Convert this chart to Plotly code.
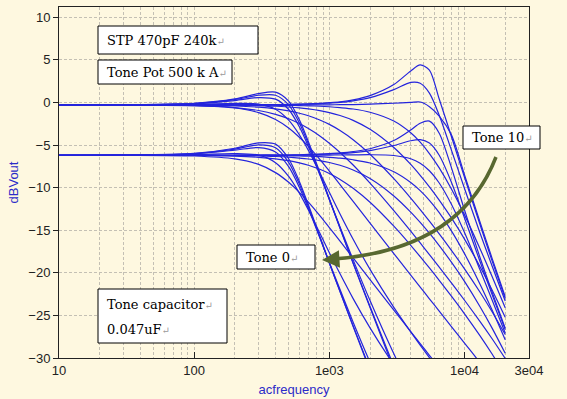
import math
import plotly.graph_objects as go

# ---------------- data ----------------
freq_hz = [10, 30, 100, 200, 300, 400, 500, 600, 700, 850, 1000, 1200, 1500,
           2000, 3000, 4000, 4700, 5500, 6500, 8000, 10000, 13000, 16000, 20000]

# upper family (volume full, about -0.3 dB at low frequency)
upper_family_db = [
    [-0.3, -0.3, -0.3, -0.29, -0.27, -0.25, -0.23, -0.2, -0.17, -0.11, -0.03, 0.08, 0.3, 0.8, 2.1, 3.7, 4.4, 3.8, 0.4, -4.0, -8.8, -14.3, -18.6, -23.0],
    [-0.3, -0.3, -0.3, -0.29, -0.28, -0.27, -0.25, -0.22, -0.19, -0.15, -0.08, 0.0, 0.19, 0.56, 1.5, 2.35, 2.25, 1.1, -1.5, -5.6, -10.1, -15.3, -19.2, -23.3],
    [-0.3, -0.3, -0.3, -0.3, -0.3, -0.3, -0.3, -0.3, -0.3, -0.29, -0.28, -0.27, -0.25, -0.2, -0.1, 0.0, 0.05, -0.5, -1.6, -3.8, -8.5, -14.0, -18.3, -22.8],
    [-0.3, -0.3, -0.3, -0.32, -0.32, -0.33, -0.35, -0.38, -0.4, -0.45, -0.51, -0.61, -0.77, -1.15, -2.19, -3.57, -4.67, -6.0, -7.69, -10.16, -13.2, -17.14, -20.43, -24.1],
    [-0.3, -0.3, -0.31, -0.34, -0.39, -0.45, -0.54, -0.64, -0.76, -0.96, -1.19, -1.54, -2.11, -3.16, -5.3, -7.28, -8.56, -9.91, -11.46, -13.56, -16.04, -19.25, -22.03, -25.23],
    [-0.3, -0.3, -0.33, -0.42, -0.56, -0.75, -0.99, -1.27, -1.57, -2.06, -2.58, -3.3, -4.38, -6.08, -8.95, -11.23, -12.58, -13.94, -15.43, -17.36, -19.53, -22.25, -24.57, -27.25],
    [-0.3, -0.31, -0.38, -0.6, -0.95, -1.4, -1.92, -2.48, -3.07, -3.93, -4.79, -5.88, -7.35, -9.48, -12.71, -15.12, -16.5, -17.86, -19.33, -21.18, -23.22, -25.7, -27.74, -30.05],
    [-0.3, -0.3, -0.38, -0.65, -1.2, -2.01, -3.01, -4.09, -5.17, -6.69, -8.06, -9.64, -11.62, -14.17, -17.74, -20.27, -21.68, -23.05, -24.5, -26.31, -28.25, -30.53, -32.34, -34.28],
    [-0.3, -0.29, -0.23, -0.11, -0.19, -0.8, -2.08, -3.79, -5.63, -8.26, -10.54, -13.09, -16.06, -19.6, -24.06, -26.94, -28.49, -29.95, -31.49, -33.36, -35.35, -37.66, -39.49, -41.4],
    [-0.3, -0.28, -0.15, 0.22, 0.57, 0.38, -0.83, -2.86, -5.18, -8.5, -11.39, -14.61, -18.48, -23.26, -29.51, -33.53, -35.6, -37.5, -39.5, -41.7, -44.0, -46.6, -48.5, -50.6],
    [-0.3, -0.28, -0.13, 0.33, 0.84, 0.84, -0.29, -2.42, -4.88, -8.37, -11.4, -14.77, -18.84, -23.95, -30.93, -35.4, -38.0, -40.0, -43.0, -46.0, -49.0, -52.0, -55.0, -58.0],
    [-0.3, -0.28, -0.11, 0.41, 1.04, 1.2, 0.15, -2.04, -4.6, -8.21, -11.3, -14.75, -18.88, -24.09, -31.3, -36.3, -39.2, -41.9, -44.8, -48.4, -52.3, -56.9, -60.5, -64.4],
]

# lower family (about -6.2 dB at low frequency)
lower_family_db = [
    [-6.2, -6.2, -6.2, -6.2, -6.19, -6.18, -6.17, -6.15, -6.11, -6.06, -6.01, -5.93, -5.77, -5.44, -4.48, -3.24, -2.45, -2.2, -3.61, -7.65, -12.63, -18.17, -22.27, -26.5],
    [-6.2, -6.2, -6.2, -6.2, -6.2, -6.19, -6.18, -6.17, -6.15, -6.11, -6.06, -6.0, -5.89, -5.65, -5.06, -4.5, -4.37, -4.77, -6.2, -9.37, -13.57, -18.64, -22.56, -26.67],
    [-6.2, -6.2, -6.2, -6.2, -6.2, -6.2, -6.2, -6.2, -6.2, -6.19, -6.18, -6.17, -6.16, -6.14, -6.23, -6.61, -7.13, -8.02, -9.46, -11.96, -15.28, -19.62, -23.19, -27.06],
    [-6.2, -6.2, -6.2, -6.2, -6.21, -6.23, -6.26, -6.29, -6.32, -6.37, -6.44, -6.54, -6.73, -7.11, -8.14, -9.4, -10.36, -11.5, -12.94, -15.07, -17.75, -21.31, -24.38, -27.86],
    [-6.2, -6.2, -6.21, -6.24, -6.28, -6.35, -6.43, -6.53, -6.64, -6.83, -7.05, -7.38, -7.93, -8.93, -10.98, -12.87, -14.08, -15.35, -16.81, -18.75, -21.01, -23.95, -26.49, -29.44],
    [-6.2, -6.2, -6.23, -6.31, -6.44, -6.62, -6.84, -7.1, -7.38, -7.85, -8.35, -9.04, -10.08, -11.72, -14.53, -16.77, -18.1, -19.43, -20.88, -22.74, -24.81, -27.37, -29.53, -32.0],
    [-6.2, -6.21, -6.29, -6.63, -7.28, -8.24, -9.38, -10.56, -11.71, -13.29, -14.7, -16.28, -18.26, -20.8, -24.38, -26.9, -28.3, -29.68, -31.13, -32.94, -34.88, -37.16, -38.97, -40.9],
    [-6.2, -6.19, -6.12, -6.0, -6.19, -7.08, -8.69, -10.65, -12.63, -15.33, -17.64, -20.12, -23.03, -26.46, -30.81, -33.64, -35.17, -36.62, -38.14, -40.0, -42.0, -44.3, -46.1, -48.1],
    [-6.2, -6.18, -6.03, -5.6, -5.3, -5.81, -7.54, -9.97, -12.48, -15.87, -18.79, -21.97, -25.8, -30.5, -36.6, -40.5, -42.55, -44.4, -46.3, -48.5, -50.8, -53.0, -55.0, -57.0],
    [-6.2, -6.18, -6.0, -5.48, -4.98, -5.31, -7.03, -9.59, -12.25, -15.82, -18.87, -22.2, -26.23, -31.3, -38.2, -43.0, -46.0, -48.5, -51.0, -54.0, -57.5, -61.0, -65.0, -68.0],
    [-6.2, -6.18, -5.98, -5.38, -4.74, -4.9, -6.61, -9.27, -12.02, -15.7, -18.81, -22.2, -26.3, -31.48, -38.66, -43.7, -46.6, -49.3, -52.3, -55.8, -59.7, -64.2, -67.9, -71.8],
]

x_tick_vals = [10, 100, 1000, 10000, 30000]
x_tick_text = ["10", "100", "1e03", "1e04", "3e04"]
x_minor_vals = [m * d for d in (10, 100, 1000) for m in range(2, 10)] + [20000]
y_tick_vals = [-30, -25, -20, -15, -10, -5, 0, 5, 10]

# ---------------- style ----------------
W, H = 567, 399
ML, MR, MT, MB = 59, 38, 7, 41
PW, PH = W - ML - MR, H - MT - MB
BG = "#FEF8E0"
GRID = "#C4C0B4"
LINE = "#2424DC"
AXIS = "#222222"
TITLE_BLUE = "#2B2BC8"
OLIVE = "#586830"
SERIF = "DejaVu Serif, Liberation Serif, serif"
SANS = "Liberation Sans, Arial, sans-serif"


def px(xp):
    return (xp - ML) / PW


def py(yp):
    return (MT + PH - yp) / PH


fig = go.Figure()
for curve in upper_family_db + lower_family_db:
    fig.add_trace(go.Scatter(
        x=freq_hz, y=curve, mode="lines",
        line=dict(color=LINE, width=1.2, shape="spline", smoothing=0.8),
        hoverinfo="skip", showlegend=False))

grid_dash = "3px,2px"
fig.update_layout(
    width=W, height=H,
    margin=dict(l=ML, r=MR, t=MT, b=MB),
    paper_bgcolor=BG, plot_bgcolor=BG,
    showlegend=False,
    xaxis=dict(
        type="log", range=[1, math.log10(30000)],
        tickmode="array", tickvals=x_tick_vals, ticktext=x_tick_text,
        ticks="inside", ticklen=6, tickcolor=AXIS, tickwidth=1,
        tickfont=dict(family=SANS, size=13, color=AXIS),
        showline=True, linecolor=AXIS, linewidth=1, mirror=True,
        showgrid=True, gridcolor=GRID, griddash=grid_dash, gridwidth=1,
        minor=dict(tickmode="array", tickvals=x_minor_vals, showgrid=True,
                   gridcolor=GRID, griddash=grid_dash, gridwidth=1, ticks=""),
        zeroline=False, automargin=False,
        title=dict(text="acfrequency", font=dict(family=SANS, size=13, color=TITLE_BLUE), standoff=8),
    ),
    yaxis=dict(
        range=[-30, 11.2],
        tickmode="array", tickvals=y_tick_vals,
        ticks="outside", ticklen=5, tickcolor=AXIS, tickwidth=1,
        tickfont=dict(family=SANS, size=13, color=AXIS),
        showline=True, linecolor=AXIS, linewidth=1, mirror=True,
        showgrid=True, gridcolor=GRID, griddash=grid_dash, gridwidth=1,
        zeroline=False, automargin=False,
        title=dict(text="dBVout", font=dict(family=SANS, size=13, color=TITLE_BLUE), standoff=6),
    ),
)

# ---------------- text boxes ----------------
boxes = [
    (98, 26, 258, 54),
    (98, 60, 232, 84),
    (98, 289, 227, 343),
    (237, 245, 315, 269),
    (463, 126, 540, 149),
]
for x0, y0, x1, y1 in boxes:
    fig.add_shape(type="rect", xref="paper", yref="paper",
                  x0=px(x0), x1=px(x1), y0=py(y1), y1=py(y0),
                  fillcolor="white", line=dict(color="black", width=1), layer="above")

RET = '<span style="color:#999999;font-size:10px">↵</span>'
labels = [
    ("STP 470pF 240k", 105, 40),
    ("Tone Pot 500 k A", 105, 72),
    ("Tone capacitor", 105, 304),
    ("0.047uF", 105, 329),
    ("Tone 0", 244, 257),
    ("Tone 10", 470, 137),
]
for text, x, y in labels:
    fig.add_annotation(xref="paper", yref="paper", x=px(x), y=py(y),
                       xanchor="left", yanchor="middle", showarrow=False,
                       text=text + RET, font=dict(family=SERIF, size=13, color="black"))

# ---------------- curved arrow ----------------
p0 = (px(496), py(157))
pc = (px(460), py(250))
p2 = (px(333), py(259))
fig.add_shape(type="path", xref="paper", yref="paper",
              path=f"M {p0[0]},{p0[1]} Q {pc[0]},{pc[1]} {p2[0]},{p2[1]}",
              line=dict(color=OLIVE, width=3.5), layer="above")
fig.add_annotation(xref="paper", yref="paper", x=px(322), y=py(260),
                   ax=16, ay=-1, text="", showarrow=True,
                   arrowhead=2, arrowsize=1, arrowwidth=3.5, arrowcolor=OLIVE)

fig.write_html("out.html", config={"displayModeBar": False},
               post_script="document.body.style.margin='0px';")
